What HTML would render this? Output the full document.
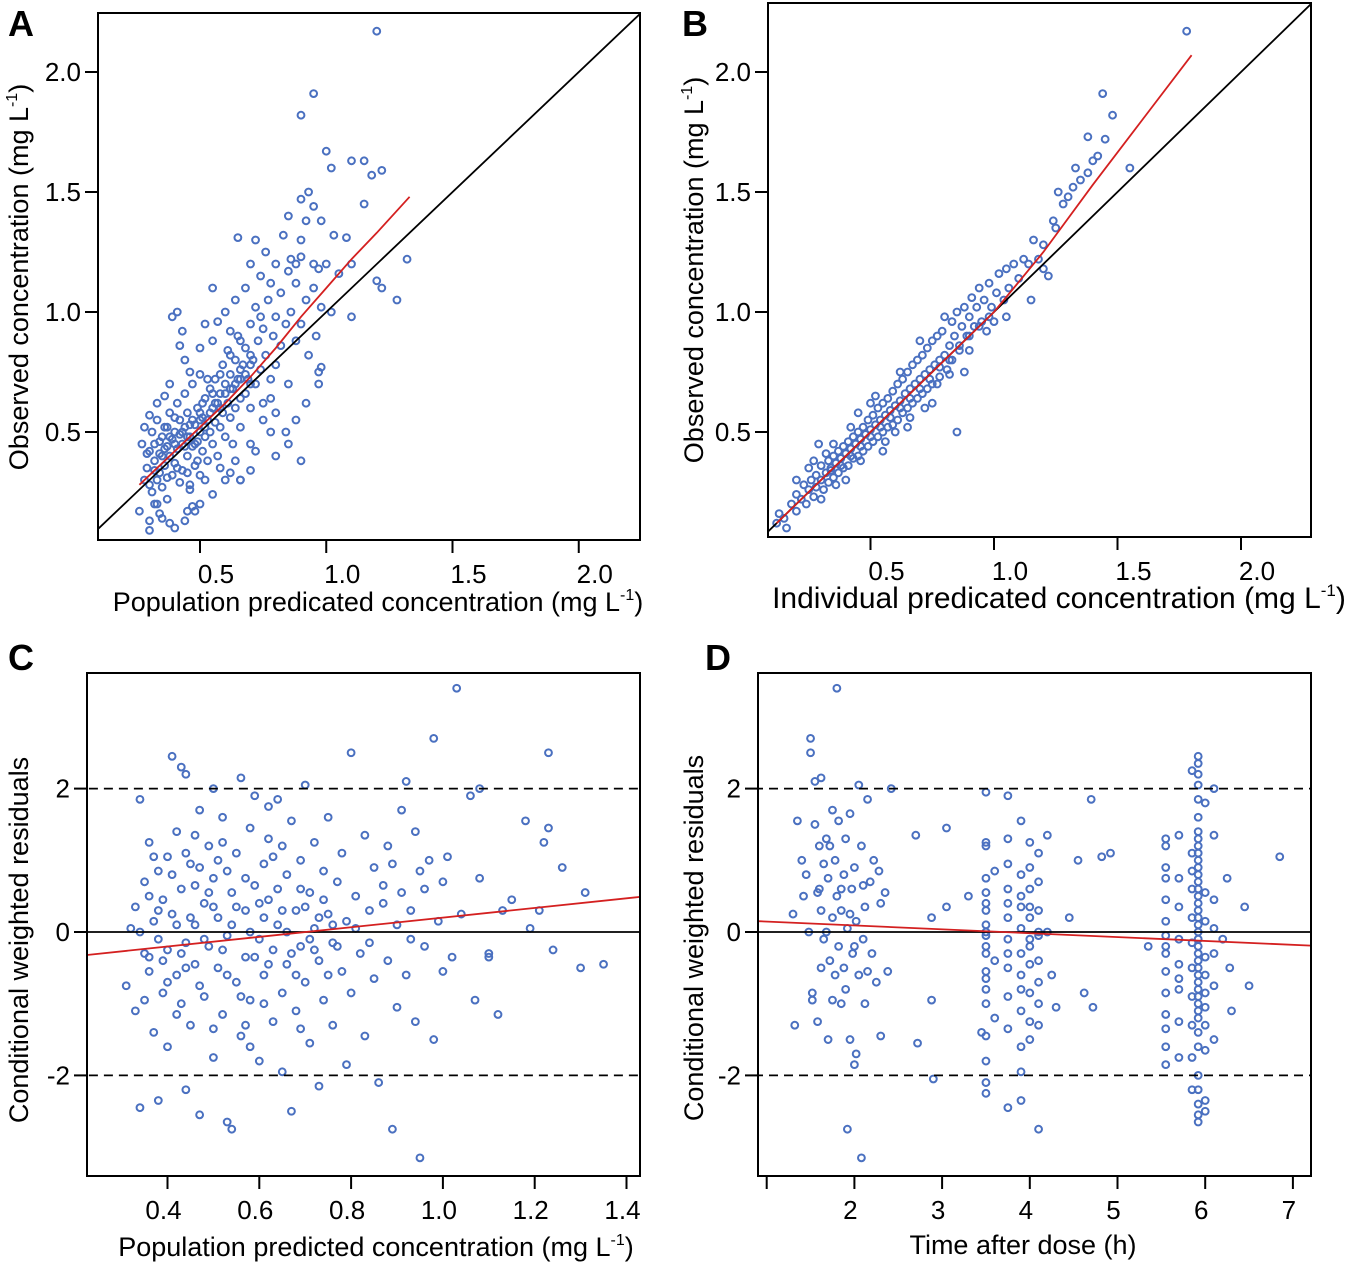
<!DOCTYPE html>
<html><head><meta charset="utf-8">
<style>
html,body{margin:0;padding:0;background:#fff;}
svg{display:block;font-family:"Liberation Sans",Arial,sans-serif;}
</style></head>
<body>
<svg id="fig" width="1350" height="1266" viewBox="0 0 1350 1266" xmlns="http://www.w3.org/2000/svg">
<text x="8" y="36" font-size="36" font-weight="bold">A</text>
<text x="682" y="36" font-size="36" font-weight="bold">B</text>
<text x="8" y="670" font-size="36" font-weight="bold">C</text>
<text x="705" y="670" font-size="36" font-weight="bold">D</text>

<text transform="translate(28,277) rotate(-90)" text-anchor="middle" font-size="27">Observed concentration (mg L<tspan font-size="16" dy="-11">-1</tspan><tspan dy="11">)</tspan></text>
<text x="378" y="611" text-anchor="middle" font-size="27">Population predicated concentration (mg L<tspan font-size="16" dy="-11">-1</tspan><tspan dy="11">)</tspan></text>
<text transform="translate(703,270) rotate(-90)" text-anchor="middle" font-size="27">Observed concentration (mg L<tspan font-size="16" dy="-11">-1</tspan><tspan dy="11">)</tspan></text>
<text x="1059" y="608" text-anchor="middle" font-size="30">Individual predicated concentration (mg L<tspan font-size="17" dy="-12">-1</tspan><tspan dy="12">)</tspan></text>
<text transform="translate(28,940) rotate(-90)" text-anchor="middle" font-size="27">Conditional weighted residuals</text>
<text x="376" y="1256" text-anchor="middle" font-size="27">Population predicted concentration (mg L<tspan font-size="16" dy="-11">-1</tspan><tspan dy="11">)</tspan></text>
<text transform="translate(703,938) rotate(-90)" text-anchor="middle" font-size="27">Conditional weighted residuals</text>
<text x="1023" y="1254" text-anchor="middle" font-size="27">Time after dose (h)</text>
</svg>
<script>
// ---------- DATA ----------
const aTicksX=[0.5,1.0,1.5,2.0];
const aTicksY=[0.5,1.0,1.5,2.0];
const aTickLabels=["0.5","1.0","1.5","2.0"];
const aPoints=[[0.28,0.3],[0.29,0.35],[0.3,0.28],[0.3,0.42],[0.31,0.5],[0.31,0.25],[0.32,0.38],[0.32,0.45],[0.33,0.3],[0.33,0.55],[0.34,0.33],[0.34,0.41],[0.35,0.48],[0.35,0.27],[0.36,0.36],[0.36,0.52],[0.37,0.44],[0.37,0.22],[0.38,0.4],[0.38,0.58],[0.39,0.32],[0.39,0.47],[0.4,0.5],[0.4,0.37],[0.41,0.43],[0.41,0.62],[0.42,0.29],[0.42,0.55],[0.43,0.45],[0.43,0.34],[0.44,0.52],[0.44,0.66],[0.45,0.4],[0.45,0.58],[0.46,0.48],[0.46,0.26],[0.47,0.44],[0.47,0.7],[0.48,0.53],[0.48,0.36],[0.49,0.6],[0.49,0.46],[0.5,0.5],[0.5,0.74],[0.5,0.32],[0.51,0.56],[0.51,0.42],[0.52,0.64],[0.52,0.48],[0.53,0.55],[0.53,0.38],[0.54,0.68],[0.54,0.5],[0.55,0.6],[0.55,0.45],[0.56,0.72],[0.56,0.54],[0.57,0.62],[0.57,0.4],[0.58,0.66],[0.58,0.52],[0.59,0.78],[0.59,0.58],[0.6,0.7],[0.6,0.48],[0.61,0.62],[0.61,0.84],[0.62,0.56],[0.62,0.74],[0.63,0.68],[0.63,0.45],[0.64,0.8],[0.64,0.6],[0.65,0.72],[0.65,0.9],[0.66,0.64],[0.66,0.52],[0.67,0.78],[0.68,0.85],[0.68,0.66],[0.69,0.72],[0.7,0.95],[0.7,0.6],[0.71,0.8],[0.72,0.7],[0.72,1.02],[0.73,0.88],[0.74,0.76],[0.75,0.93],[0.75,0.55],[0.76,0.82],[0.77,1.05],[0.78,0.72],[0.79,0.9],[0.8,0.98],[0.8,0.78],[0.82,0.86],[0.82,1.08],[0.84,0.95],[0.85,0.7],[0.86,1.0],[0.88,0.88],[0.88,1.12],[0.9,0.95],[0.92,1.05],[0.93,0.82],[0.95,1.1],[0.96,0.9],[0.98,1.02],
[0.27,0.45],[0.28,0.52],[0.29,0.41],[0.3,0.57],[0.32,0.2],[0.33,0.62],[0.34,0.16],[0.36,0.65],[0.38,0.7],[0.39,0.98],[0.41,1.0],[0.42,0.86],[0.44,0.8],[0.46,0.75],[0.43,0.92],[0.5,0.85],[0.52,0.95],[0.55,0.88],[0.57,0.96],[0.6,1.0],[0.62,0.92],[0.64,1.05],[0.68,1.1],[0.7,1.2],[0.74,1.15],[0.5,0.2],[0.48,0.17],[0.46,0.28],[0.52,0.3],[0.55,0.24],[0.58,0.35],[0.6,0.3],[0.64,0.38],[0.66,0.3],[0.7,0.34],[0.72,0.42],[0.78,0.5],[0.8,0.4],[0.84,0.5],[0.26,0.17],[0.3,0.13],[0.35,0.14],[0.4,0.1],[0.44,0.13],[0.37,0.52],[0.4,0.56],[0.45,0.48],[0.47,0.55],[0.49,0.38],[0.51,0.62],[0.53,0.72],[0.35,0.4],[0.37,0.31],[0.41,0.35],[0.43,0.5],[0.45,0.33],[0.5,0.58],[0.55,0.66],[0.58,0.74],[0.62,0.82],[0.66,0.88],[0.7,0.82],[0.74,0.98],[0.78,1.12],[0.86,1.22],[0.9,1.3],[0.66,0.72],[0.3,0.09],[0.38,0.12],[0.45,0.17],[0.47,0.19],[0.33,0.2],
[0.32,0.34],[0.34,0.46],[0.36,0.43],[0.38,0.48],[0.4,0.45],[0.42,0.49],[0.44,0.44],[0.46,0.53],[0.48,0.45],[0.5,0.55],[0.52,0.52],[0.54,0.58],[0.56,0.62],[0.58,0.6],[0.6,0.66],[0.62,0.68],[0.64,0.7],[0.66,0.76],[0.68,0.74],[0.7,0.78],
[1.2,2.17],[0.95,1.91],[0.9,1.82],[1.0,1.67],[1.02,1.6],[1.1,1.63],[1.15,1.63],[1.18,1.57],[1.22,1.59],[1.15,1.45],[0.93,1.5],[0.95,1.44],[0.9,1.47],[1.03,1.32],[1.08,1.31],[1.2,1.13],[1.28,1.05],[1.32,1.22],[1.22,1.1],[0.85,1.4],[0.83,1.32],[0.92,1.38],[0.98,1.38],[0.65,1.31],[0.72,1.3],[0.55,1.1],[0.76,1.25],[0.8,1.2],[0.85,1.17],[0.88,1.2],[0.9,1.23],[0.95,1.2],[0.97,1.18],[1.0,1.2],[1.05,1.16],[1.1,1.2],[1.1,0.98],[1.02,1.0],[0.98,0.77],[0.97,0.75],[0.97,0.7],[0.92,0.62],[0.88,0.55],[0.9,0.38],[0.85,0.45],[0.8,0.58],[0.78,0.64],[0.7,0.45],[0.66,0.3],[0.62,0.33],[0.75,0.62],[0.7,0.7]];
const aLoessX=[0.26,0.4,0.5,0.6,0.7,0.8,0.9,1.0,1.1,1.2,1.33];
const aLoessY=[0.28,0.42,0.52,0.62,0.73,0.85,0.98,1.1,1.22,1.33,1.48];

const bPoints=[[0.12,0.12],[0.13,0.16],[0.15,0.14],[0.16,0.1],[0.18,0.2],[0.2,0.17],[0.2,0.24],[0.22,0.22],[0.23,0.28],[0.24,0.2],[0.25,0.26],[0.26,0.3],[0.27,0.23],[0.28,0.32],[0.28,0.27],[0.29,0.45],[0.3,0.3],[0.3,0.36],[0.31,0.26],[0.32,0.33],[0.33,0.38],[0.33,0.29],[0.34,0.35],[0.35,0.4],[0.35,0.31],[0.36,0.37],[0.37,0.42],[0.37,0.33],[0.38,0.39],[0.39,0.44],[0.39,0.35],[0.4,0.41],[0.41,0.46],[0.41,0.36],[0.42,0.43],[0.43,0.48],[0.43,0.39],[0.44,0.45],[0.45,0.5],[0.45,0.4],[0.46,0.47],[0.47,0.52],[0.47,0.42],[0.48,0.49],[0.49,0.55],[0.49,0.44],[0.5,0.51],[0.51,0.57],[0.51,0.46],[0.52,0.53],[0.53,0.6],[0.53,0.48],[0.54,0.55],[0.55,0.62],[0.55,0.5],[0.56,0.57],[0.57,0.64],[0.57,0.52],[0.58,0.59],[0.59,0.67],[0.59,0.53],[0.6,0.61],[0.61,0.7],[0.61,0.55],[0.62,0.63],[0.63,0.72],[0.63,0.58],[0.64,0.66],[0.65,0.75],[0.65,0.6],[0.66,0.68],[0.67,0.78],[0.67,0.62],[0.68,0.7],[0.69,0.8],[0.69,0.64],[0.7,0.72],[0.71,0.82],[0.71,0.66],[0.72,0.74],[0.73,0.85],[0.73,0.68],[0.74,0.76],[0.75,0.88],[0.75,0.7],[0.76,0.78],[0.77,0.9],[0.78,0.8],[0.78,0.73],[0.79,0.92],[0.8,0.82],[0.8,0.98],[0.81,0.76],[0.82,0.86],[0.83,0.96],[0.83,0.8],[0.84,0.9],[0.85,0.5],[0.85,1.0],[0.86,0.86],[0.87,0.94],[0.88,1.02],[0.89,0.9],[0.9,0.98],[0.91,1.06],[0.92,0.94],[0.93,1.02],[0.94,1.1],[0.95,0.96],[0.96,1.05],[0.97,0.92],[0.98,1.12],[0.99,1.02],[1.0,0.96],[1.01,1.08],[1.02,1.16],[1.04,1.05],[1.05,1.18],[1.06,1.1],[1.08,1.2],[1.1,1.14],[1.12,1.22],[1.14,1.2],[1.16,1.3],[1.18,1.22],[1.2,1.28],[1.22,1.15],[1.24,1.38],[1.26,1.5],[1.28,1.45],[1.3,1.48],[1.33,1.6],[1.35,1.55],[1.38,1.58],[1.4,1.63],[1.42,1.65],[1.44,1.91],[1.45,1.72],[1.48,1.82],[1.55,1.6],[1.78,2.17],[1.38,1.73],[1.2,1.18],[0.7,0.88],[0.6,0.5],[0.5,0.62],[0.45,0.58],[0.4,0.3],[0.35,0.45],[0.3,0.22],[0.25,0.35],[0.2,0.3],[0.55,0.42],[0.65,0.52],[0.75,0.62],[0.72,0.6],[0.62,0.75],[0.52,0.65],[0.42,0.52],[0.32,0.41],[0.27,0.38],[0.36,0.28],[0.46,0.38],[0.56,0.46],[0.66,0.56],[0.77,0.7],[0.82,0.74],[0.9,0.84],[1.05,0.98],[1.15,1.05],[1.25,1.35],[1.32,1.52],[0.88,0.75],
[0.34,0.34],[0.38,0.36],[0.42,0.4],[0.46,0.44],[0.5,0.48],[0.54,0.52],[0.58,0.56],[0.62,0.6],[0.66,0.64],[0.7,0.68],[0.74,0.72],[0.78,0.77],[0.82,0.8],[0.86,0.84],[0.9,0.9],[0.94,0.94],[0.98,0.98]];
const bLoessX=[0.12,0.5,1.0,1.2,1.4,1.6,1.8];
const bLoessY=[0.12,0.5,1.0,1.25,1.53,1.8,2.07];

const cTicksX=[0.4,0.6,0.8,1.0,1.2,1.4];
const cTickLabelsX=["0.4","0.6","0.8","1.0","1.2","1.4"];
const resTicksY=[2,0,-2];
const resTickLabelsY=["2","0","-2"];
const cPoints=[[0.31,-0.75],[0.32,0.05],[0.33,0.35],[0.33,-1.1],[0.34,1.85],[0.34,-2.45],[0.35,-0.3],[0.35,0.7],[0.36,-0.55],[0.36,1.25],[0.37,-1.4],[0.37,0.15],[0.38,-0.1],[0.38,0.85],[0.38,-2.35],[0.39,-0.85],[0.39,0.45],[0.4,1.05],[0.4,-0.25],[0.4,-1.6],[0.41,2.45],[0.41,0.25],[0.42,-0.6],[0.42,1.4],[0.43,-1.0],[0.43,0.6],[0.43,2.3],[0.44,-0.15],[0.44,2.2],[0.44,-2.2],[0.45,0.95],[0.45,-1.3],[0.46,0.1],[0.46,-0.45],[0.47,1.7],[0.47,-2.55],[0.48,0.4],[0.48,-0.9],[0.49,1.2],[0.49,-0.2],[0.5,2.0],[0.5,-1.75],[0.5,0.75],[0.51,-0.5],[0.51,0.2],[0.52,1.6],[0.52,-1.15],[0.53,-0.05],[0.53,-2.65],[0.54,0.55],[0.54,-2.75],[0.55,1.1],[0.55,-0.7],[0.56,2.15],[0.56,-1.45],[0.57,0.3],[0.57,-0.35],[0.58,1.45],[0.58,-0.95],[0.59,0.65],[0.59,1.9],[0.6,-0.1],[0.6,-1.8],[0.61,0.95],[0.61,-0.6],[0.62,0.45],[0.62,1.3],[0.63,-0.25],[0.63,-1.25],[0.64,1.85],[0.64,0.1],[0.65,-0.85],[0.65,-1.95],[0.66,0.8],[0.66,-0.45],[0.67,1.55],[0.67,-2.5],[0.68,0.3],[0.68,-1.1],[0.69,1.0],[0.69,-0.2],[0.7,2.05],[0.7,-0.7],[0.71,0.55],[0.71,-1.55],[0.72,1.25],[0.72,0.05],[0.73,-0.4],[0.73,-2.15],[0.74,0.85],[0.74,-0.95],[0.75,1.6],[0.75,0.25],[0.76,-0.15],[0.76,-1.3],[0.77,0.7],[0.78,-0.55],[0.78,1.1],[0.79,0.15],[0.79,-1.85],[0.8,2.5],[0.8,-0.85],[0.81,0.5],[0.82,-0.3],[0.83,1.35],[0.83,-1.45],[0.84,0.3],[0.85,-0.65],[0.85,0.9],[0.86,-2.1],[0.87,0.65],[0.88,-0.4],[0.88,1.2],[0.89,-2.75],[0.9,0.1],[0.9,-1.05],[0.91,1.7],[0.91,0.55],[0.92,2.1],[0.92,-0.6],[0.93,0.3],[0.94,1.4],[0.94,-1.25],[0.95,-3.15],[0.95,0.85],[0.96,-0.2],[0.97,1.0],[0.98,2.7],[0.98,-1.5],[0.99,0.15],[1.0,0.7],[1.0,-0.55],[1.01,1.05],[1.02,-0.35],[1.03,3.4],[1.04,0.25],[1.06,1.9],[1.07,-0.95],[1.08,2.0],[1.08,0.75],[1.1,-0.3],[1.1,-0.35],[1.12,-1.15],[1.13,0.3],[1.15,0.45],[1.18,1.55],[1.19,0.05],[1.21,0.3],[1.23,1.45],[1.23,2.5],[1.24,-0.25],[1.26,0.9],[1.3,-0.5],[1.31,0.55],[1.35,-0.45],[1.22,1.25],
[0.34,0.0],[0.36,-0.35],[0.38,0.3],[0.4,-0.7],[0.42,0.1],[0.44,-0.5],[0.46,0.65],[0.48,-0.1],[0.5,0.35],[0.52,-0.25],[0.54,0.1],[0.56,-0.9],[0.58,0.0],[0.6,0.4],[0.62,-0.45],[0.64,0.6],[0.66,0.0],[0.68,-0.6],[0.7,0.35],[0.72,-0.25],[0.74,0.45],[0.76,0.1],[0.36,0.5],[0.39,-0.4],[0.41,0.8],[0.45,0.2],[0.47,-0.75],[0.49,0.55],[0.51,1.0],[0.53,-0.6],[0.55,0.35],[0.57,-1.3],[0.59,-0.35],[0.61,0.2],[0.63,1.05],[0.65,0.3],[0.67,-0.3],[0.69,0.6],[0.71,-0.1],[0.73,0.2],[0.75,-0.6],[0.35,-0.95],[0.37,1.05],[0.43,-0.3],[0.47,0.9],[0.53,0.85],[0.57,0.75],[0.61,-1.0],[0.65,1.2],[0.69,-1.35],[0.77,-0.2],[0.81,0.05],[0.84,-0.15],[0.87,0.4],[0.89,0.95],[0.93,-0.1],[0.96,0.6],[0.42,-1.15],[0.5,-1.35],[0.58,-1.6],[0.62,1.75],[0.46,1.35],[0.44,1.1],[0.52,1.25]];
const cTrend=[-0.471,0.672]; // intercept, slope

const dTicksX=[1,2,3,4,5,6,7];
const dTickLabelsX=["","2","3","4","5","6","7"];
const dPoints=[[1.3,0.25],[1.32,-1.3],[1.35,1.55],[1.45,0.8],[1.5,2.7],[1.5,2.5],[1.52,-0.85],[1.52,-0.95],[1.55,1.5],[1.55,2.1],[1.58,-1.25],[1.6,0.6],[1.6,1.2],[1.62,0.3],[1.62,-0.5],[1.65,0.95],[1.65,-0.1],[1.68,0.0],[1.7,-1.5],[1.7,0.75],[1.72,1.2],[1.72,-0.4],[1.75,1.7],[1.75,0.2],[1.78,-0.6],[1.78,1.0],[1.8,3.4],[1.8,0.5],[1.82,-0.2],[1.82,1.55],[1.85,0.3],[1.85,-1.0],[1.88,0.8],[1.88,-0.5],[1.9,1.3],[1.9,-0.8],[1.92,0.05],[1.92,-2.75],[1.95,1.65],[1.95,-1.5],[1.97,0.6],[1.98,-0.3],[2.0,-1.85],[2.0,0.9],[2.02,-1.7],[2.02,0.15],[2.05,2.05],[2.05,-0.6],[2.08,-3.15],[2.08,1.2],[2.1,-0.1],[2.12,0.35],[2.12,-1.0],[2.15,1.85],[2.15,-0.55],[2.18,0.7],[2.2,-0.3],[2.22,1.0],[2.25,-0.7],[2.28,0.85],[2.3,0.4],[2.3,-1.45],[2.35,0.55],[2.38,-0.55],[2.42,2.0],[1.42,0.5],[1.48,0.0],[1.58,0.55],[1.68,1.3],[1.75,-0.95],[1.85,0.6],[1.95,0.25],[2.0,-0.2],[2.1,0.65],[1.62,2.15],[1.4,1.0],
[2.7,1.35],[2.72,-1.55],[2.88,0.2],[2.88,-0.95],[2.9,-2.05],[3.05,1.45],[3.05,0.35],[3.3,0.5],[3.45,-1.4],[3.6,0.85],[3.6,-0.4],[3.6,-1.2],
[4.2,1.35],[4.2,0.0],[4.25,-0.6],[4.3,-1.05],[4.45,0.2],[4.55,1.0],[4.62,-0.85],[4.7,1.85],[4.72,-1.05],[4.82,1.05],[4.92,1.1],[5.35,-0.2],
[6.25,0.75],[6.2,-0.1],[6.28,-0.5],[6.45,0.35],[6.5,-0.75],[6.85,1.05],[6.3,-1.1]];
const dColumnTimes=[3.5,3.75,3.9,4.0,4.1,5.55,5.7,5.85,5.92,6.0,6.1];
const dColumnResiduals=[
[1.95,1.25,1.2,0.75,0.3,0.1,-0.05,-0.3,-0.55,-0.8,-1.0,-1.45,-1.8,-2.1,-2.25,0.0,0.4,-0.2,-0.65,0.55],
[1.9,1.3,0.95,0.6,0.2,-0.1,-0.5,-0.9,-1.35,-2.45,0.4,-0.3],
[1.55,0.8,0.35,0.05,-0.3,-0.6,-1.1,-1.6,-2.35,-1.95,0.5,-0.8],
[1.25,0.9,0.6,0.2,-0.1,-0.45,-0.85,-1.25,-1.5,0.35,-0.2],
[1.1,0.7,0.3,-0.05,-0.4,-0.7,-1.0,-1.3,-2.75,0.0],
[1.3,1.2,0.75,0.45,0.15,-0.05,-0.3,-0.55,-0.85,-1.15,-1.35,-1.6,-1.85,-0.2,0.9],
[1.35,0.75,0.35,-0.1,-0.45,-0.8,-1.25,-1.75,-0.65],
[2.25,1.1,0.6,0.2,-0.15,-0.5,-0.9,-1.3,-1.75,-2.2,0.85],
[2.45,2.35,2.2,2.05,1.85,1.6,1.4,1.3,1.2,1.1,1.0,0.9,0.8,0.7,0.6,0.5,0.4,0.3,0.2,0.1,0.0,-0.1,-0.2,-0.3,-0.4,-0.5,-0.6,-0.7,-0.8,-0.9,-1.0,-1.1,-1.2,-1.4,-1.6,-2.0,-2.2,-2.4,-2.55,-2.65],
[1.8,0.55,0.15,-0.35,-0.6,-0.85,-1.05,-1.3,-1.65,-2.35,-2.5],
[2.0,1.35,0.45,0.05,-0.3,-0.75,-1.5]];
const dTrend=[0.199,-0.054];

// ---------- DRAWING ----------
const NS="http://www.w3.org/2000/svg";
const svg=document.getElementById('fig');
const BLUE="#4a70c0";
function mk(tag,attrs,parent){const e=document.createElementNS(NS,tag);for(const k in attrs)e.setAttribute(k,attrs[k]);(parent||svg).appendChild(e);return e;}

function panel(id,box,sx,sy){
  const g=mk('g',{});
  
  
  const clip=mk('clipPath',{id:id+'clip'},g);
  mk('rect',{x:box.l,y:box.t,width:box.r-box.l,height:box.b-box.t},clip);
  const inner=mk('g',{'clip-path':'url(#'+id+'clip)'},g);
  return {g,inner,sx,sy,box};
}
function frame(p,name){
  const b=p.box;
  const r=mk('rect',{x:b.l,y:b.t,width:b.r-b.l,height:b.b-b.t,fill:'none',stroke:'#000','stroke-width':2},p.g);
  
  
}
function xTicks(p,vals,labels,off,name){
  vals.forEach((v,i)=>{
    const x=p.sx(v);
    const t=mk('line',{x1:x,x2:x,y1:p.box.b,y2:p.box.b+13,stroke:'#000','stroke-width':2},p.g);
    
    
    if(labels[i]){
      const tx=mk('text',{x:x+off,y:p.box.b+43,'text-anchor':'middle','font-size':26},p.g);
      tx.textContent=labels[i];
      
      
    }
  });
}
function yTicks(p,vals,labels,name){
  vals.forEach((v,i)=>{
    const y=p.sy(v);
    const t=mk('line',{x1:p.box.l-13,x2:p.box.l,y1:y,y2:y,stroke:'#000','stroke-width':2},p.g);
    
    
    const tx=mk('text',{x:p.box.l-17,y:y+9,'text-anchor':'end','font-size':26},p.g);
    tx.textContent=labels[i];
    
    
  });
}
function points(p,pts,name){
  pts.forEach(pt=>{
    const c=mk('circle',{cx:p.sx(pt[0]),cy:p.sy(pt[1]),r:3.4,fill:'none',stroke:BLUE,'stroke-width':2},p.inner);
    
    
  });
}
function polyline(p,xs,ys,color,w,name,dash){
  const d=xs.map((x,i)=>(i?'L':'M')+p.sx(x).toFixed(1)+','+p.sy(ys[i]).toFixed(1)).join('');
  const a={d:d,fill:'none',stroke:color,'stroke-width':w};
  if(dash)a['stroke-dasharray']=dash;
  const e=mk('path',a,p.inner);
  
  
}

// Panel A
const A=panel('a',{l:98,r:640,t:13,b:540},v=>73.75+252.5*v,v=>552-240*v);
points(A,aPoints,'a');
polyline(A,[0,2.4],[0,2.4],'#000',1.8,'a-identity-line');
polyline(A,aLoessX,aLoessY,'#d42020',1.8,'a-loess-line');
frame(A,'a');xTicks(A,aTicksX,aTickLabels,16,'a');yTicks(A,aTicksY,aTickLabels,'a');

// Panel B
const B=panel('b',{l:768,r:1311,t:3,b:537},v=>747+247*v,v=>552-240*v);
points(B,bPoints,'b');
polyline(B,[0,2.4],[0,2.4],'#000',1.8,'b-identity-line');
polyline(B,bLoessX,bLoessY,'#d42020',1.8,'b-loess-line');
frame(B,'b');xTicks(B,aTicksX,aTickLabels,16,'b');yTicks(B,aTicksY,aTickLabels,'b');

// Panel C
const C=panel('c',{l:87,r:640,t:673,b:1176},v=>167.5+459*(v-0.4),v=>932-71.7*v);
points(C,cPoints,'c');
polyline(C,[0,2],[0,0],'#000',1.8,'c-zero-line');
polyline(C,[0,2],[2,2],'#000',1.8,'c-upper-dashed-line','9,6');
polyline(C,[0,2],[-2,-2],'#000',1.8,'c-lower-dashed-line','9,6');
polyline(C,[0,2],[cTrend[0],cTrend[0]+2*cTrend[1]],'#d42020',1.8,'c-trend-line');
frame(C,'c');xTicks(C,cTicksX,cTickLabelsX,-4,'c');yTicks(C,resTicksY,resTickLabelsY,'c');

// Panel D
const D=panel('d',{l:758,r:1311,t:673,b:1176},v=>679+87.7*v,v=>932-71.7*v);
points(D,dPoints,'d');
dColumnTimes.forEach((t,i)=>points(D,dColumnResiduals[i].map(r=>[t,r]),'d'));
polyline(D,[0,8],[0,0],'#000',1.8,'d-zero-line');
polyline(D,[0,8],[2,2],'#000',1.8,'d-upper-dashed-line','9,6');
polyline(D,[0,8],[-2,-2],'#000',1.8,'d-lower-dashed-line','9,6');
polyline(D,[0,8],[dTrend[0],dTrend[0]+8*dTrend[1]],'#d42020',1.8,'d-trend-line');
frame(D,'d');xTicks(D,dTicksX,dTickLabelsX,-4,'d');yTicks(D,resTicksY,resTickLabelsY,'d');
</script>
</body></html>
